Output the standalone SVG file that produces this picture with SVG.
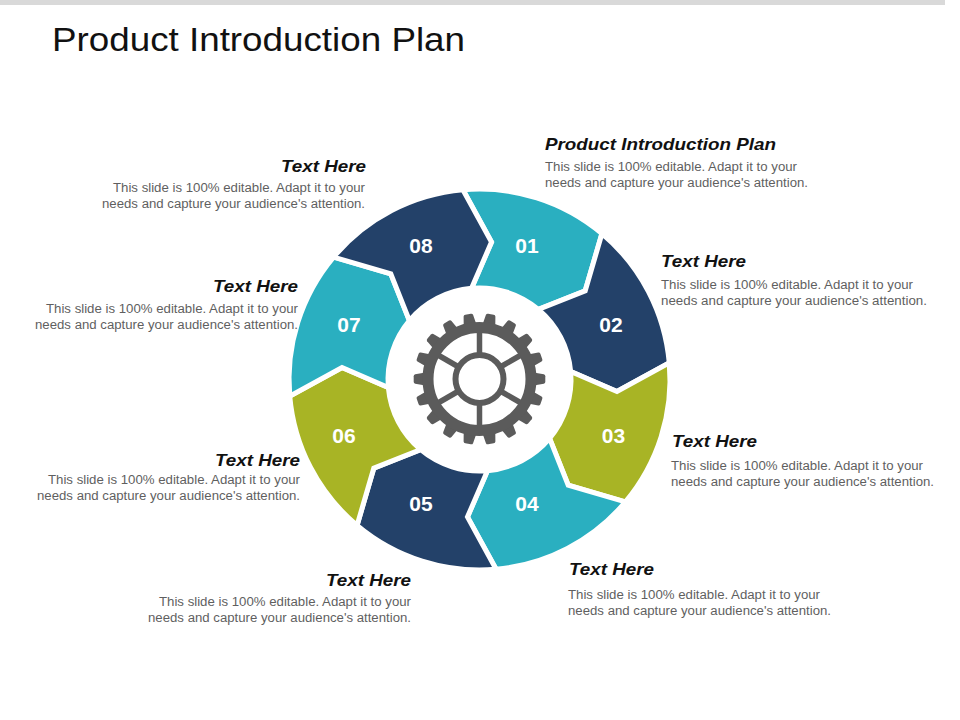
<svg xmlns="http://www.w3.org/2000/svg" xmlns:xlink="http://www.w3.org/1999/xlink" width="960" height="720" viewBox="0 0 960 720">
<defs>
<style>
.seg{stroke:#fff;stroke-width:5;stroke-linejoin:miter}
.navy{fill:#234169}
.teal{fill:#2aafc0}
.olive{fill:#a8b425}
.num{font-family:"Liberation Sans",Arial,sans-serif;font-weight:bold;font-size:21px;fill:#fff;text-anchor:middle}
.hd{font-family:"Liberation Sans",Arial,sans-serif;font-weight:bold;font-style:italic;font-size:17px;fill:#111}
.bd{font-family:"Liberation Sans",Arial,sans-serif;font-size:12.5px;fill:#5f5f5f}
.end{text-anchor:end}
.gear{fill:#5b5b5b}
.gline{stroke:#5b5b5b;fill:none}
</style>
<path id="tooth" d="M-6.5,-54 L-4.8,-64.3 Q-4.4,-65.8 -2.8,-65.8 L2.8,-65.8 Q4.4,-65.8 4.8,-64.3 L6.5,-54 Z"/>
</defs>
<rect width="960" height="720" fill="#fff"/>
<rect x="0" y="0" width="945" height="5" fill="#d9d9d9"/>
<text x="52" y="51" font-family="'Liberation Sans',Arial,sans-serif" font-size="34" fill="#111" textLength="413" lengthAdjust="spacingAndGlyphs">Product Introduction Plan</text>

<g id="ring">
<g id="node-01"><path class="seg teal" d="M462.90,189.73 A190.5,190.5 0 0 1 601.95,233.57 L585.21,290.79 L538.32,309.41 A91.5,91.5 0 0 0 471.53,288.35 L491.53,242.03 Z"/><text class="num" x="527" y="252.5">01</text></g>
<g id="node-02"><path class="seg navy" d="M601.95,233.57 A190.5,190.5 0 0 1 669.27,362.90 L616.97,391.53 L570.65,371.53 A91.5,91.5 0 0 0 538.32,309.41 L585.21,290.79 Z"/><text class="num" x="611" y="331.5">02</text></g>
<g id="node-03"><path class="seg olive" d="M669.27,362.90 A190.5,190.5 0 0 1 625.43,501.95 L568.21,485.21 L549.59,438.32 A91.5,91.5 0 0 0 570.65,371.53 L616.97,391.53 Z"/><text class="num" x="613.5" y="442.5">03</text></g>
<g id="node-04"><path class="seg teal" d="M625.43,501.95 A190.5,190.5 0 0 1 496.10,569.27 L467.47,516.97 L487.48,470.65 A91.5,91.5 0 0 0 549.59,438.32 L568.21,485.21 Z"/><text class="num" x="527" y="510.5">04</text></g>
<g id="node-05"><path class="seg navy" d="M496.10,569.27 A190.5,190.5 0 0 1 357.05,525.43 L373.79,468.21 L420.68,449.59 A91.5,91.5 0 0 0 487.48,470.65 L467.47,516.97 Z"/><text class="num" x="421" y="510.5">05</text></g>
<g id="node-06"><path class="seg olive" d="M357.05,525.43 A190.5,190.5 0 0 1 289.73,396.10 L342.03,367.47 L388.35,387.48 A91.5,91.5 0 0 0 420.68,449.59 L373.79,468.21 Z"/><text class="num" x="344" y="442.5">06</text></g>
<g id="node-07"><path class="seg teal" d="M289.73,396.10 A190.5,190.5 0 0 1 333.57,257.05 L390.79,273.79 L409.41,320.68 A91.5,91.5 0 0 0 388.35,387.48 L342.03,367.47 Z"/><text class="num" x="349" y="331.5">07</text></g>
<g id="node-08"><path class="seg navy" d="M333.57,257.05 A190.5,190.5 0 0 1 462.90,189.73 L491.53,242.03 L471.53,288.35 A91.5,91.5 0 0 0 409.41,320.68 L390.79,273.79 Z"/><text class="num" x="421" y="252.5">08</text></g>
</g>

<g id="gear" transform="translate(479.5,379)">
<g class="gear">
<use xlink:href="#tooth" transform="rotate(10)"/><use xlink:href="#tooth" transform="rotate(30)"/><use xlink:href="#tooth" transform="rotate(50)"/>
<use xlink:href="#tooth" transform="rotate(70)"/><use xlink:href="#tooth" transform="rotate(90)"/><use xlink:href="#tooth" transform="rotate(110)"/>
<use xlink:href="#tooth" transform="rotate(130)"/><use xlink:href="#tooth" transform="rotate(150)"/><use xlink:href="#tooth" transform="rotate(170)"/>
<use xlink:href="#tooth" transform="rotate(190)"/><use xlink:href="#tooth" transform="rotate(210)"/><use xlink:href="#tooth" transform="rotate(230)"/>
<use xlink:href="#tooth" transform="rotate(250)"/><use xlink:href="#tooth" transform="rotate(270)"/><use xlink:href="#tooth" transform="rotate(290)"/>
<use xlink:href="#tooth" transform="rotate(310)"/><use xlink:href="#tooth" transform="rotate(330)"/><use xlink:href="#tooth" transform="rotate(350)"/>
</g>
<circle class="gline" r="51.5" stroke-width="11"/>
<circle class="gline" r="24" stroke-width="6"/>
<g class="gline" stroke-width="5.5">
<line x1="0" y1="-26" x2="0" y2="-47"/>
<line x1="0" y1="26" x2="0" y2="47"/>
<line x1="22.5" y1="-13" x2="40.7" y2="-23.5"/>
<line x1="22.5" y1="13" x2="40.7" y2="23.5"/>
<line x1="-22.5" y1="-13" x2="-40.7" y2="-23.5"/>
<line x1="-22.5" y1="13" x2="-40.7" y2="23.5"/>
</g>
</g>

<g id="text-01">
<text class="hd" x="545" y="150" textLength="231" lengthAdjust="spacingAndGlyphs">Product Introduction Plan</text>
<text class="bd" x="545" y="171" textLength="252" lengthAdjust="spacingAndGlyphs">This slide is 100% editable. Adapt it to your</text>
<text class="bd" x="545" y="187" textLength="263" lengthAdjust="spacingAndGlyphs">needs and capture your audience's attention.</text>
</g>
<g id="text-02">
<text class="hd" x="661" y="266.5" textLength="85" lengthAdjust="spacingAndGlyphs">Text Here</text>
<text class="bd" x="661" y="288.5" textLength="252" lengthAdjust="spacingAndGlyphs">This slide is 100% editable. Adapt it to your</text>
<text class="bd" x="661" y="304.5" textLength="266" lengthAdjust="spacingAndGlyphs">needs and capture your audience's attention.</text>
</g>
<g id="text-03">
<text class="hd" x="672" y="447" textLength="85" lengthAdjust="spacingAndGlyphs">Text Here</text>
<text class="bd" x="671" y="469.5" textLength="252" lengthAdjust="spacingAndGlyphs">This slide is 100% editable. Adapt it to your</text>
<text class="bd" x="671" y="485.5" textLength="263" lengthAdjust="spacingAndGlyphs">needs and capture your audience's attention.</text>
</g>
<g id="text-04">
<text class="hd" x="569" y="575" textLength="85" lengthAdjust="spacingAndGlyphs">Text Here</text>
<text class="bd" x="568" y="598.5" textLength="252" lengthAdjust="spacingAndGlyphs">This slide is 100% editable. Adapt it to your</text>
<text class="bd" x="568" y="614.5" textLength="263" lengthAdjust="spacingAndGlyphs">needs and capture your audience's attention.</text>
</g>
<g id="text-05">
<text class="hd end" x="411" y="586" textLength="85" lengthAdjust="spacingAndGlyphs">Text Here</text>
<text class="bd end" x="411" y="605.5" textLength="252" lengthAdjust="spacingAndGlyphs">This slide is 100% editable. Adapt it to your</text>
<text class="bd end" x="411" y="621.5" textLength="263" lengthAdjust="spacingAndGlyphs">needs and capture your audience's attention.</text>
</g>
<g id="text-06">
<text class="hd end" x="300" y="466" textLength="85" lengthAdjust="spacingAndGlyphs">Text Here</text>
<text class="bd end" x="300" y="484" textLength="252" lengthAdjust="spacingAndGlyphs">This slide is 100% editable. Adapt it to your</text>
<text class="bd end" x="300" y="500" textLength="263" lengthAdjust="spacingAndGlyphs">needs and capture your audience's attention.</text>
</g>
<g id="text-07">
<text class="hd end" x="298" y="292" textLength="85" lengthAdjust="spacingAndGlyphs">Text Here</text>
<text class="bd end" x="298" y="312.5" textLength="252" lengthAdjust="spacingAndGlyphs">This slide is 100% editable. Adapt it to your</text>
<text class="bd end" x="298" y="328.5" textLength="263" lengthAdjust="spacingAndGlyphs">needs and capture your audience's attention.</text>
</g>
<g id="text-08">
<text class="hd end" x="366" y="172" textLength="85" lengthAdjust="spacingAndGlyphs">Text Here</text>
<text class="bd end" x="365" y="191.5" textLength="252" lengthAdjust="spacingAndGlyphs">This slide is 100% editable. Adapt it to your</text>
<text class="bd end" x="365" y="207.5" textLength="263" lengthAdjust="spacingAndGlyphs">needs and capture your audience's attention.</text>
</g>
<g id="connectors"/>
</svg>
